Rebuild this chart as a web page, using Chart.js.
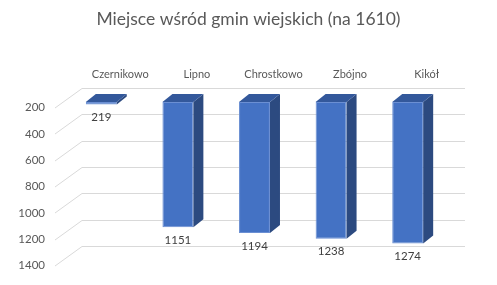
<!DOCTYPE html>
<html>
<head>
<meta charset="utf-8">
<script src="https://cdn.jsdelivr.net/npm/chart.js@4.4.0/dist/chart.umd.min.js"></script>
<style>
  html, body { margin: 0; padding: 0; background: #fff; }
  #wrap { width: 497px; height: 285px; }
</style>
</head>
<body>
<div id="wrap"><canvas id="chart"></canvas></div>
<script>
const categories = ['Czernikowo', 'Lipno', 'Chrostkowo', 'Zbójno', 'Kikół'];
const places = [219, 1151, 1194, 1238, 1274];
const yTicks = [200, 400, 600, 800, 1000, 1200, 1400];

const FONT = 'Lato, "Open Sans", sans-serif';
const TEXT = '#595959';

// fake 3D: side wall + back wall lines behind the bars
const wallPlugin = {
    id: 'walls',
    beforeDatasetsDraw(chart) {
        const ctx = chart.ctx;
        const y = chart.scales.y;
        const area = chart.chartArea;
        ctx.save();
        ctx.strokeStyle = '#d9d9d9';
        ctx.lineWidth = 1;
        yTicks.forEach(t => {
            const p = Math.round(y.getPixelForValue(t)) + 0.5;
            ctx.beginPath();
            ctx.moveTo(area.left - 8, p + 5.5);
            ctx.lineTo(area.left + 19, p - 14);
            ctx.lineTo(area.right + 19, p - 14);
            ctx.stroke();
        });
        ctx.restore();
    }
};

// side and top faces of each bar, plus the value under it
const boxPlugin = {
    id: 'boxes',
    afterDatasetsDraw(chart) {
        const ctx = chart.ctx;
        const dx = 10, dy = 8;
        ctx.save();
        chart.getDatasetMeta(0).data.forEach((bar, i) => {
            const left = bar.x - bar.width / 2;
            const right = bar.x + bar.width / 2;
            const top = Math.min(bar.y, bar.base);
            const bottom = Math.max(bar.y, bar.base);

            ctx.fillStyle = '#2c4a80';
            ctx.beginPath();
            ctx.moveTo(right, top);
            ctx.lineTo(right + dx, top - dy);
            ctx.lineTo(right + dx, bottom - dy);
            ctx.lineTo(right, bottom);
            ctx.closePath();
            ctx.fill();

            ctx.fillStyle = '#33589b';
            ctx.beginPath();
            ctx.moveTo(left, top);
            ctx.lineTo(left + dx, top - dy);
            ctx.lineTo(right + dx, top - dy);
            ctx.lineTo(right, top);
            ctx.closePath();
            ctx.fill();

            ctx.fillStyle = '#404040';
            ctx.font = '11.5px ' + FONT;
            ctx.textAlign = 'center';
            ctx.textBaseline = 'middle';
            ctx.fillText(places[i], bar.x, bottom + 13);
        });
        ctx.restore();
    }
};

new Chart(document.getElementById('chart'), {
    type: 'bar',
    data: {
        labels: categories,
        datasets: [{
            data: places.map(v => [yTicks[0], v]),
            backgroundColor: '#4472c4',
            borderColor: '#6b8fd3',
            borderWidth: 1,
            borderSkipped: false,
            categoryPercentage: 0.404,
            barPercentage: 1
        }]
    },
    options: {
        responsive: true,
        maintainAspectRatio: false,
        animation: false,
        layout: { padding: { left: 0, right: 0, top: 0, bottom: 24 } },
        plugins: {
            legend: { display: false },
            tooltip: { enabled: false },
            title: {
                display: true,
                text: 'Miejsce wśród gmin wiejskich (na 1610)',
                color: TEXT,
                font: { family: FONT, size: 17.5, weight: 'normal' },
                padding: { top: 8.5, bottom: 32.5 }
            }
        },
        scales: {
            x: {
                position: 'top',
                grid: { display: false, drawTicks: false },
                border: { display: false },
                ticks: {
                    color: TEXT,
                    font: { family: FONT, size: 11 },
                    labelOffset: 19,
                    padding: 21,
                    maxRotation: 0
                },
                afterFit(scale) { scale.height = 40; }
            },
            y: {
                reverse: true,
                min: yTicks[0],
                max: yTicks[yTicks.length - 1],
                grid: { display: false, drawTicks: false },
                border: { display: false },
                ticks: {
                    stepSize: 200,
                    color: TEXT,
                    font: { family: FONT, size: 11.5 },
                    labelOffset: 5.5,
                    padding: 18,
                    callback: v => String(v)
                },
                afterFit(scale) { scale.width = 63; }
            },
            // empty right axis, only reserves room for the back wall
            y2: {
                position: 'right',
                grid: { display: false, drawTicks: false },
                border: { display: false },
                ticks: { display: false },
                afterFit(scale) { scale.width = 51; }
            }
        }
    },
    plugins: [wallPlugin, boxPlugin]
});
</script>
</body>
</html>
